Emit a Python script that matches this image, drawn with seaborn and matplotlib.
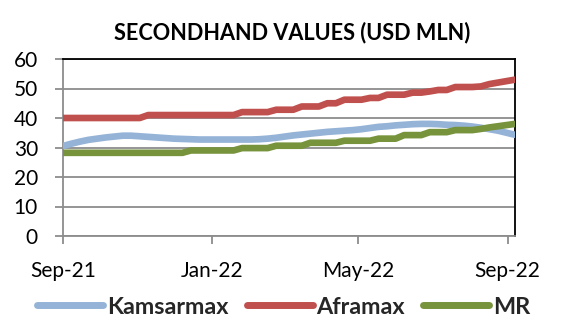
import matplotlib
matplotlib.use("Agg")
import matplotlib.pyplot as plt
import numpy as np
import pandas as pd
import seaborn as sns

# Weekly secondhand values, USD million
weeks = pd.date_range("2021-09-01", periods=54, freq="7D")

kamsarmax = [30.5, 31.3, 32.0, 32.6, 33.0, 33.4, 33.7, 34.0, 34.0, 33.8,
             33.6, 33.4, 33.2, 33.0, 32.9, 32.8, 32.7, 32.7, 32.7, 32.7,
             32.7, 32.7, 32.7, 32.8, 33.0, 33.3, 33.7, 34.1, 34.4, 34.7,
             35.0, 35.3, 35.5, 35.7, 35.9, 36.2, 36.6, 37.0, 37.2, 37.5,
             37.7, 37.9, 38.0, 38.0, 37.9, 37.7, 37.6, 37.4, 37.1, 36.7,
             36.2, 35.7, 35.0, 34.3]

aframax = [40.0, 40.0, 40.0, 40.0, 40.0, 40.0, 40.0, 40.0, 40.0, 40.0,
           41.0, 41.0, 41.0, 41.0, 41.0, 41.0, 41.0, 41.0, 41.0, 41.0,
           41.0, 42.0, 42.0, 42.0, 42.0, 42.8, 42.8, 42.8, 43.9, 43.9,
           43.9, 45.0, 45.0, 46.2, 46.2, 46.2, 46.8, 46.8, 47.9, 47.9,
           47.9, 48.6, 48.6, 49.0, 49.5, 49.5, 50.5, 50.5, 50.5, 50.7,
           51.5, 52.0, 52.5, 53.0]

mr = [28.2, 28.2, 28.2, 28.2, 28.2, 28.2, 28.2, 28.2, 28.2, 28.2,
      28.2, 28.2, 28.2, 28.2, 28.2, 29.0, 29.0, 29.0, 29.0, 29.0,
      29.0, 29.8, 29.8, 29.8, 29.8, 30.6, 30.6, 30.6, 30.6, 31.6,
      31.6, 31.6, 31.6, 32.3, 32.3, 32.3, 32.3, 33.0, 33.0, 33.0,
      34.2, 34.2, 34.2, 35.2, 35.2, 35.2, 35.9, 35.9, 35.9, 36.3,
      36.8, 37.2, 37.6, 38.0]

series_names = ["Kamsarmax", "Aframax", "MR"]
series_colors = ["#95B3D7", "#C0504D", "#77933C"]
x_tick_dates = ["2021-09-01", "2022-01-01", "2022-05-01", "2022-09-01"]
x_tick_labels = ["Sep-21", "Jan-22", "May-22", "Sep-22"]
y_ticks = [0, 10, 20, 30, 40, 50, 60]

df = pd.DataFrame({
    "date": np.tile(weeks, 3),
    "value": kamsarmax + aframax + mr,
    "vessel": np.repeat(series_names, len(weeks)),
})

sns.set_theme(style="white")
plt.rcParams["font.family"] = ["Lato", "DejaVu Sans"]

fig = plt.figure(figsize=(5.62, 3.36), dpi=100)
ax = fig.add_axes([63 / 562, 100 / 336, 452 / 562, 177 / 336])

sns.lineplot(data=df, x="date", y="value", hue="vessel",
             hue_order=series_names, palette=series_colors,
             linewidth=4.8, ax=ax, legend=True, zorder=3)
for line in ax.get_lines():
    line.set_solid_joinstyle("round")

ax.set_xlim(weeks[0], weeks[-1])
ax.set_ylim(0, 60)
ax.set_yticks(y_ticks)
ax.set_yticklabels([str(v) for v in y_ticks])
ax.set_xticks(pd.to_datetime(x_tick_dates))
ax.set_xticklabels(x_tick_labels)
ax.set_xlabel("")
ax.set_ylabel("")

ax.yaxis.grid(True, color="#8C8C8C", linewidth=1.3, zorder=0)
ax.xaxis.grid(False)

for side in ["top", "right"]:
    ax.spines[side].set_color("black")
    ax.spines[side].set_linewidth(1.3)
for side in ["left", "bottom"]:
    ax.spines[side].set_color("#8C8C8C")
    ax.spines[side].set_linewidth(1.3)

ax.tick_params(axis="y", which="major", length=6, width=1.3, color="#8C8C8C",
               direction="out", pad=12, labelsize=15, labelcolor="black", left=True)
ax.tick_params(axis="x", which="major", length=6, width=1.3, color="#8C8C8C",
               direction="out", pad=12, labelsize=15, labelcolor="black", bottom=True)

handles, labels = ax.get_legend_handles_labels()
ax.get_legend().remove()
leg = fig.legend(handles, labels, loc="center", bbox_to_anchor=(0.505, 1 - 307 / 336),
                 ncol=3, frameon=False, handlelength=2.83, handletextpad=0.17,
                 columnspacing=0.77, prop={"weight": "bold", "size": 16.8})
for line in leg.get_lines():
    line.set_linewidth(5.0)
    line.set_solid_capstyle("round")

fig.text(0.52, 1 - 33 / 336, "SECONDHAND VALUES (USD MLN)", ha="center", va="center",
         fontsize=15.6, fontweight="bold", color="black")

fig.savefig("out.png", dpi=100)
